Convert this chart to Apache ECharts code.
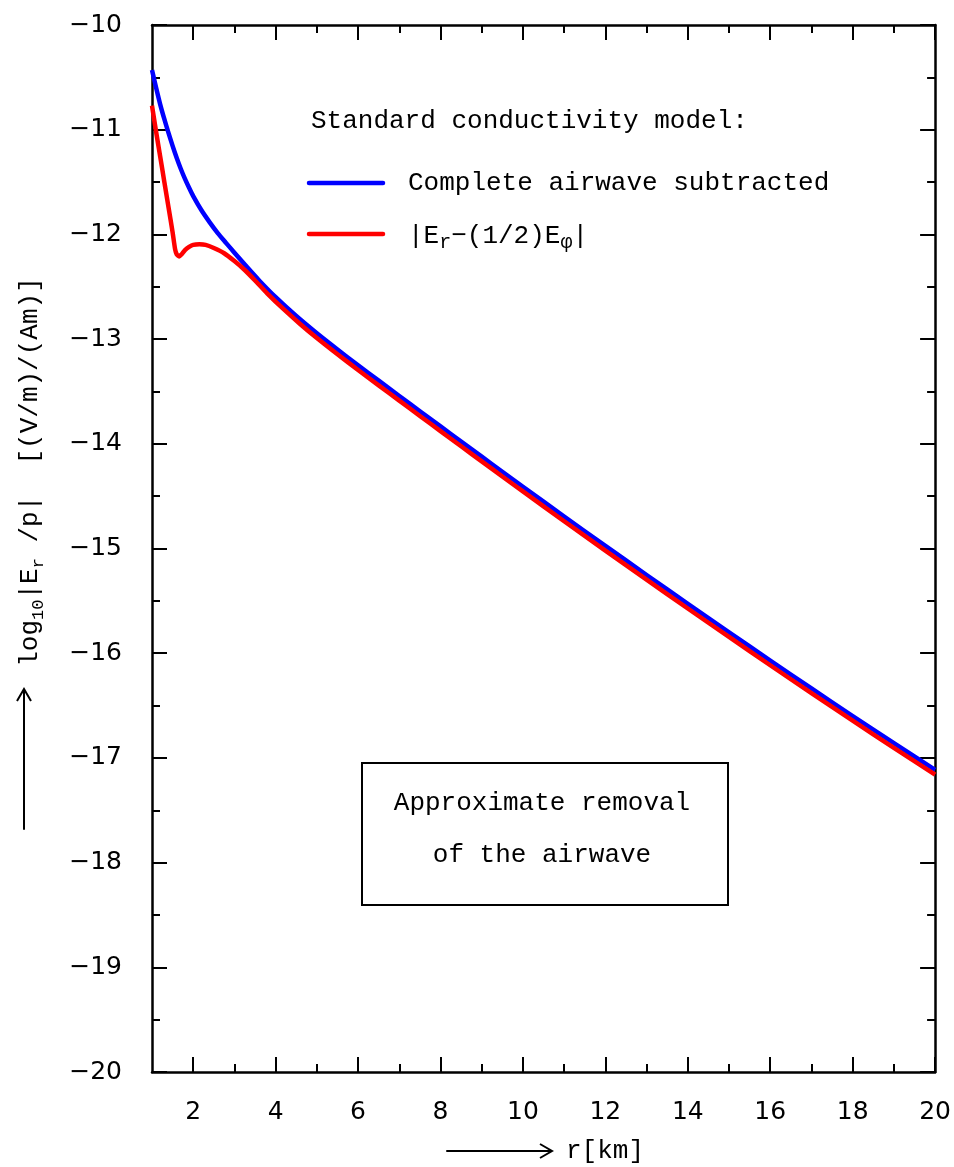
<!DOCTYPE html>
<html>
<head>
<meta charset="utf-8">
<script src="https://cdn.jsdelivr.net/npm/echarts@6/dist/echarts.min.js"></script>
<style>
  html, body { margin: 0; padding: 0; background: #fff; }
  #chart { width: 954px; height: 1167px; }
</style>
</head>
<body>
<div id="chart"></div>
<script>
// Offset r in km and log10 |E_r/p| for the two airwave treatments
const rBlue = [1.0, 1.1, 1.2, 1.3, 1.4, 1.5, 1.6, 1.7, 1.8, 1.9, 2.0, 2.2, 2.4, 2.6, 2.8, 3.0, 3.3, 3.6,
  4.0, 4.5, 5.0, 5.5, 6.0, 6.5, 7.0, 7.5, 8.0, 8.5, 9.0, 9.5, 10, 11, 12, 13, 14, 15, 16, 17, 18, 19, 20];
const logBlue = [-10.43, -10.60, -10.76, -10.90, -11.03, -11.155, -11.27, -11.375, -11.47, -11.555, -11.635,
  -11.77, -11.885, -11.99, -12.083, -12.175, -12.31, -12.44, -12.60, -12.78, -12.945, -13.10, -13.25,
  -13.397, -13.543, -13.689, -13.834, -13.979, -14.123, -14.267, -14.41, -14.695, -14.975, -15.253,
  -15.528, -15.80, -16.07, -16.337, -16.60, -16.86, -17.115];

const rRed = [1.0, 1.1, 1.2, 1.3, 1.4, 1.5, 1.56, 1.6, 1.66, 1.72, 1.8, 1.9, 2.0, 2.15, 2.3, 2.5, 2.75,
  3.0, 3.25, 3.5, 3.8, 4.2, 4.6, 5.0, 5.5, 6.0, 6.5, 7.0, 7.5, 8.0, 8.5, 9.0, 9.5, 10, 11, 12, 13, 14,
  15, 16, 17, 18, 19, 20];
const logRed = [-10.77, -11.02, -11.26, -11.50, -11.74, -11.98, -12.14, -12.19, -12.21, -12.19, -12.15,
  -12.12, -12.10, -12.095, -12.10, -12.13, -12.18, -12.255, -12.34, -12.44, -12.565, -12.717, -12.858,
  -12.99, -13.145, -13.295, -13.442, -13.588, -13.734, -13.879, -14.024, -14.168, -14.312, -14.455,
  -14.74, -15.02, -15.298, -15.573, -15.845, -16.115, -16.382, -16.645, -16.905, -17.16];

// Tick positions
const xMajorTicks = [2, 4, 6, 8, 10, 12, 14, 16, 18, 20];
const xMinorTicks = [3, 5, 7, 9, 11, 13, 15, 17, 19];
const yMin = -20, yMax = -10;

const seriesNames = ['Complete airwave subtracted', '|E_r-(1/2)E_phi|'];
const BLUE = '#0000ff';
const RED = '#ff0000';

const MONO = "'Liberation Mono', 'DejaVu Sans Mono', monospace";
const SANS = "'DejaVu Sans', sans-serif";

const zip = (xs, ys) => xs.map((x, i) => [x, ys[i]]);
const minus = v => (v < 0 ? '\u2212' : '') + Math.abs(v);

const chart = echarts.init(document.getElementById('chart'), null, { renderer: 'canvas' });

const frameLine = { show: true, onZero: false, lineStyle: { color: '#000', width: 2.5 } };
const majorTick = len => ({ show: true, inside: true, length: len, lineStyle: { color: '#000', width: 2 } });

function xAxisPair(position, withLabels) {
  return [
    {
      type: 'value', min: 1, max: 20, position: position,
      axisLine: frameLine,
      axisTick: Object.assign(majorTick(15), { customValues: xMajorTicks }),
      axisLabel: withLabels
        ? { show: true, customValues: xMajorTicks, margin: 28, fontFamily: SANS, fontSize: 25, color: '#000' }
        : { show: false },
      splitLine: { show: false }
    },
    {
      type: 'value', min: 1, max: 20, position: position,
      axisLine: { show: false },
      axisTick: Object.assign(majorTick(8), { customValues: xMinorTicks }),
      axisLabel: { show: false },
      splitLine: { show: false }
    }
  ];
}

function yAxisSide(position, withLabels) {
  return {
    type: 'value', min: yMin, max: yMax, interval: 1, position: position,
    axisLine: frameLine,
    axisTick: majorTick(15),
    minorTick: { show: true, splitNumber: 2, length: 8, lineStyle: { color: '#000', width: 2 } },
    axisLabel: withLabels
      ? { show: true, margin: 30, fontFamily: SANS, fontSize: 25, color: '#000', formatter: minus }
      : { show: false },
    splitLine: { show: false },
    minorSplitLine: { show: false }
  };
}

const monoText = (txt, x, y, align) => ({
  type: 'text', x: x, y: y, silent: true,
  style: { text: txt, fontFamily: MONO, fontSize: 26, fill: '#000', align: align || 'left', verticalAlign: 'middle' }
});

const seg = (x1, y1, x2, y2, color, w) => ({
  type: 'line', silent: true,
  shape: { x1: x1, y1: y1, x2: x2, y2: y2 },
  style: { stroke: color, lineWidth: w, lineCap: 'round' }
});

const option = {
  backgroundColor: '#fff',
  animation: false,
  grid: { left: 152, top: 25, width: 785, height: 1047, containLabel: false },
  xAxis: xAxisPair('bottom', true).concat(xAxisPair('top', false)),
  yAxis: [yAxisSide('left', true), yAxisSide('right', false)],
  series: [
    {
      name: seriesNames[0], type: 'line', xAxisIndex: 0, yAxisIndex: 0,
      data: zip(rBlue, logBlue), showSymbol: false, smooth: 0.2,
      lineStyle: { color: BLUE, width: 4.5, join: 'round' }, z: 3
    },
    {
      name: seriesNames[1], type: 'line', xAxisIndex: 0, yAxisIndex: 0,
      data: zip(rRed, logRed), showSymbol: false, smooth: 0.2,
      lineStyle: { color: RED, width: 4.5, join: 'round' }, z: 4
    }
  ],
  graphic: [
    // key
    monoText('Standard conductivity model:', 311, 121),
    seg(309, 183, 383, 183, BLUE, 4.5),
    monoText('Complete airwave subtracted', 408, 183),
    seg(309, 234, 383, 234, RED, 4.5),
    {
      type: 'text', x: 408, y: 236, silent: true,
      style: {
        text: '{a||E}{s|r}{a|\u2212(1/2)E}{s|\u03c6}{a||}',
        align: 'left', verticalAlign: 'middle', fill: '#000',
        rich: {
          a: { fontFamily: MONO, fontSize: 26, lineHeight: 34, verticalAlign: 'middle', fill: '#000' },
          s: { fontFamily: MONO, fontSize: 20, lineHeight: 20, verticalAlign: 'bottom', fill: '#000' }
        }
      }
    },
    // boxed note
    {
      type: 'rect', silent: true,
      shape: { x: 362, y: 763, width: 366, height: 142 },
      style: { fill: null, stroke: '#000', lineWidth: 2 }
    },
    monoText('Approximate removal', 542, 803, 'center'),
    monoText('of the airwave', 542, 855, 'center'),
    // x axis title with arrow
    seg(447, 1151, 551, 1151, '#000', 2),
    {
      type: 'polyline', silent: true,
      shape: { points: [[540, 1144], [552, 1151], [540, 1158]] },
      style: { stroke: '#000', lineWidth: 2, fill: null }
    },
    monoText('r[km]', 566, 1151),
    // y axis title with arrow
    seg(24, 829, 24, 690, '#000', 2),
    {
      type: 'polyline', silent: true,
      shape: { points: [[17, 701], [24, 689], [31, 701]] },
      style: { stroke: '#000', lineWidth: 2, fill: null }
    },
    {
      type: 'text', x: 30, y: 472, rotation: Math.PI / 2, silent: true,
      style: {
        text: '{a|log}{s|10}{a||E}{s|r}{a| /p|  [(V/m)/(Am)]}',
        align: 'center', verticalAlign: 'middle', fill: '#000',
        rich: {
          a: { fontFamily: MONO, fontSize: 26, lineHeight: 34, verticalAlign: 'middle', fill: '#000' },
          s: { fontFamily: MONO, fontSize: 17, lineHeight: 17, verticalAlign: 'bottom', fill: '#000' }
        }
      }
    }
  ]
};

chart.setOption(option);
</script>
</body>
</html>
